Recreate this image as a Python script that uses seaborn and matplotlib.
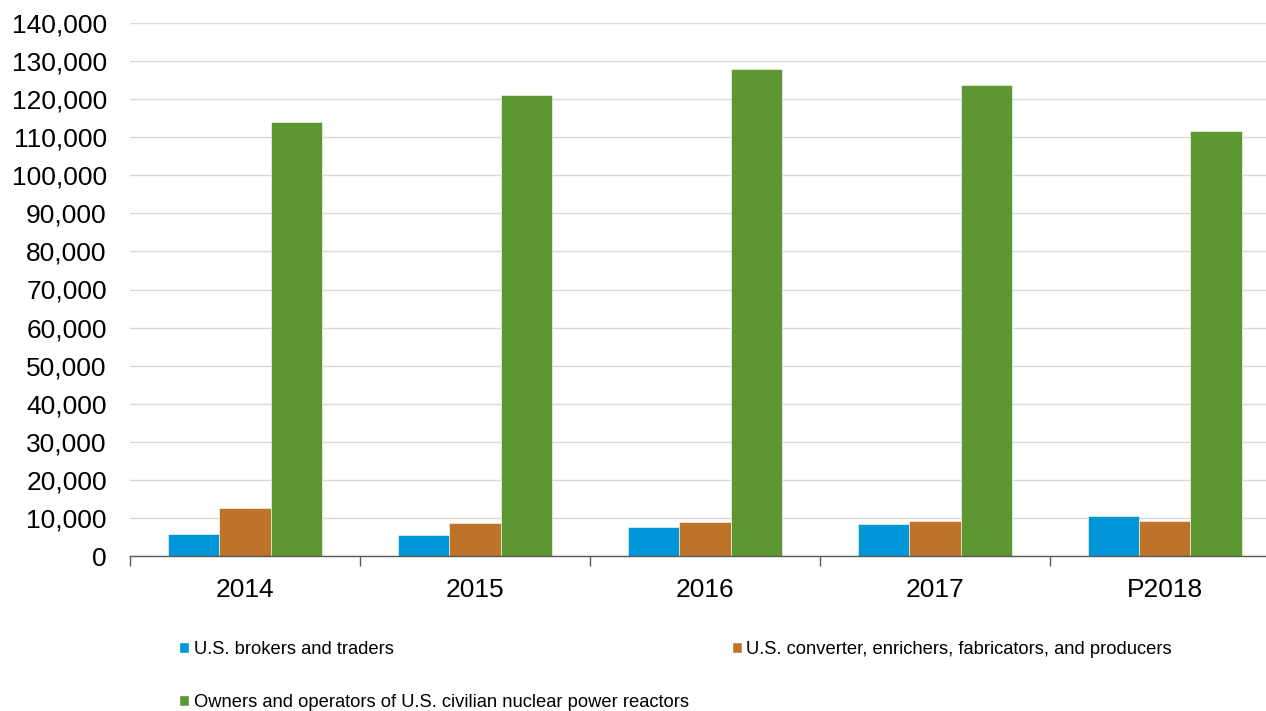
import numpy as np
import pandas as pd
import matplotlib
matplotlib.use("Agg")
import matplotlib.pyplot as plt
import matplotlib.ticker as mticker
from matplotlib.patches import Patch
import seaborn as sns

years = ["2014", "2015", "2016", "2017", "P2018"]
brokers = [5900, 5600, 7700, 8500, 10600]
producers = [12600, 8600, 8800, 9200, 9200]
owners = [114050, 121050, 127950, 123800, 111600]

series_names = ["U.S. brokers and traders",
                "U.S. converter, enrichers, fabricators, and producers",
                "Owners and operators of U.S. civilian nuclear power reactors"]
colors = ["#0096D7", "#BD732A", "#5D9732"]

df = pd.DataFrame({
    "year": years * 3,
    "series": [series_names[0]] * 5 + [series_names[1]] * 5 + [series_names[2]] * 5,
    "value": brokers + producers + owners,
})

sns.set_style("white")
plt.rcParams["font.family"] = ["Liberation Sans", "DejaVu Sans"]

fig = plt.figure(figsize=(12.66, 7.11), dpi=100)
ax = fig.add_axes([130 / 1266, 1 - 556 / 711, 1 - 130 / 1266, (556 - 23) / 711])

sns.barplot(data=df, x="year", y="value", hue="series", palette=colors,
            width=0.67, gap=0, saturation=1, errorbar=None, ax=ax,
            edgecolor="white", linewidth=0.4, legend=False)

ax.set_ylim(0, 140000)
ax.set_xlim(-0.5, 4.44)
ax.yaxis.set_major_locator(mticker.MultipleLocator(10000))
ax.yaxis.set_major_formatter(mticker.FuncFormatter(lambda v, p: f"{int(v):,}"))
ax.grid(axis="y", color="#D9D9D9", linewidth=1)
ax.set_axisbelow(True)
for s in ["left", "right", "top"]:
    ax.spines[s].set_visible(False)
ax.spines["bottom"].set_color("#595959")
ax.spines["bottom"].set_linewidth(1)

ax.tick_params(axis="y", length=0, pad=16.7, labelsize=19, labelcolor="black")
ax.tick_params(axis="x", which="major", length=0, pad=15.5, labelsize=19, labelcolor="black")
ax.set_xticks(np.arange(-0.5, 4.5, 1), minor=True)
ax.tick_params(axis="x", which="minor", bottom=True, length=7, color="#595959", width=1)
ax.set_xlabel("")
ax.set_ylabel("")

handles = [Patch(facecolor=colors[0], label=series_names[0]),
           Patch(facecolor=colors[2], label=series_names[2]),
           Patch(facecolor=colors[1], label=series_names[1])]
fig.legend(handles=handles, ncol=2, loc="upper left",
           bbox_to_anchor=(179 / 1266, 1 - 641 / 711), frameon=False,
           fontsize=13.2, labelcolor="black",
           handlelength=0.55, handleheight=0.55, handletextpad=0.25,
           columnspacing=2.35, labelspacing=1.95, borderpad=0, borderaxespad=0)

fig.savefig("out.png", dpi=100)
